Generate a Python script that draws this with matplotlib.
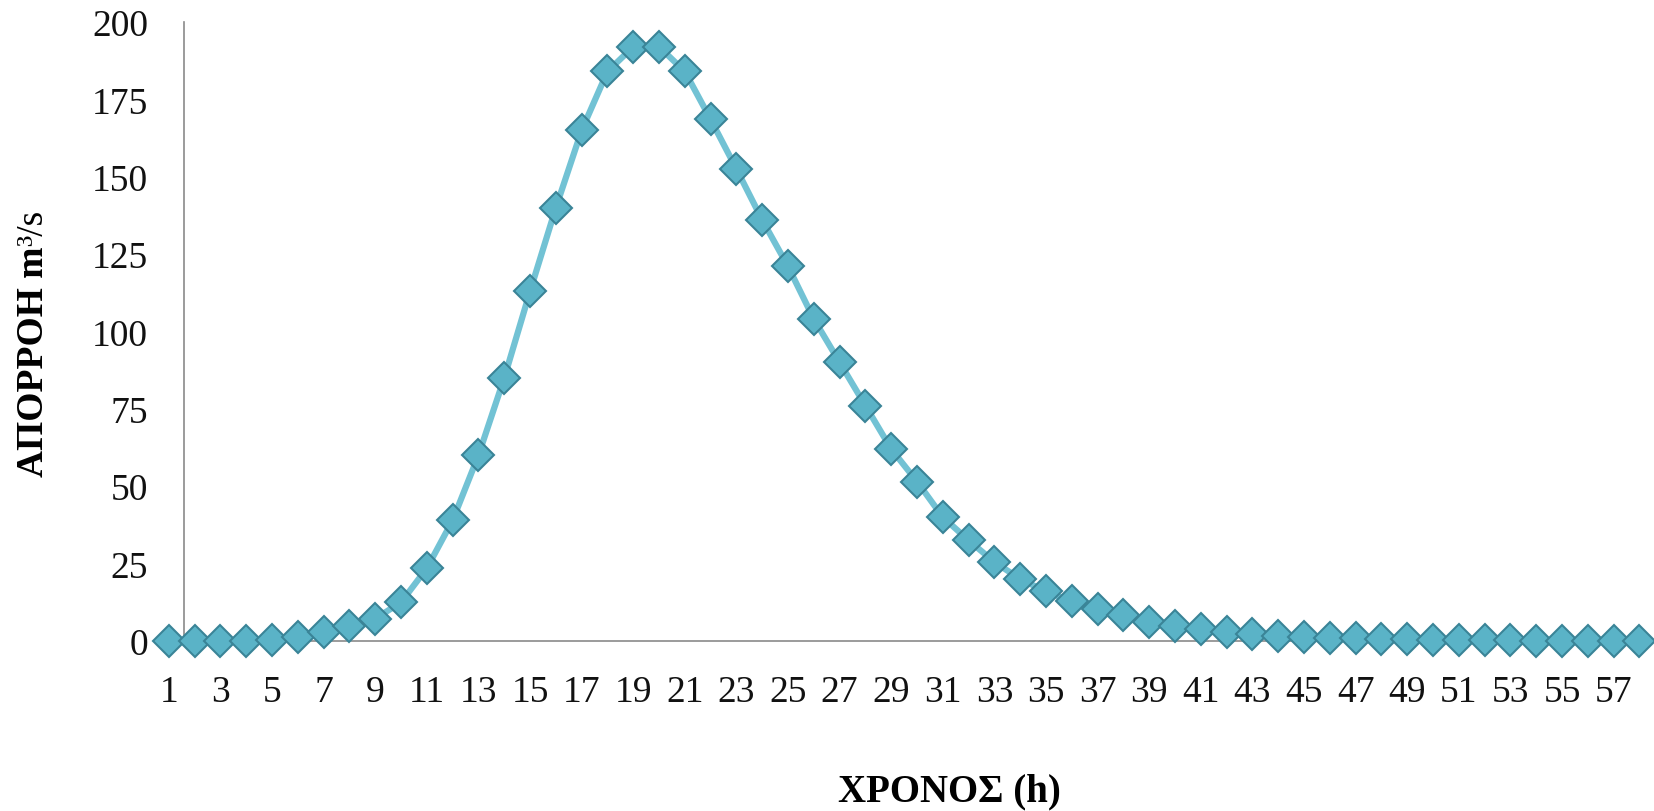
import matplotlib
matplotlib.use("Agg")
import matplotlib.pyplot as plt

# hourly runoff hydrograph, hours 1..58
HOURS = list(range(1, 59))
RUNOFF = [
    0, 0, 0, 0, 0.3, 1.2, 2.8, 4.8, 7.2, 12.5,
    23.5, 39, 60, 85, 113, 140, 165, 184, 192, 192,
    184, 168.5, 152.5, 136, 121, 104, 90, 76, 62, 51.5,
    40, 32.5, 25.5, 20, 16, 12.8, 10.3, 8.3, 6.2, 4.8,
    3.8, 2.8, 2.1, 1.6, 1.3, 1.0, 0.8, 0.6, 0.5, 0.4,
    0.3, 0.25, 0.2, 0.15, 0.1, 0.1, 0.05, 0.05,
]
Y_TICKS = [0, 25, 50, 75, 100, 125, 150, 175, 200]
X_TICKS = HOURS[::2]

SERIF = "Liberation Serif"
LINE_COLOR = "#72c2d4"
FACE_COLOR = "#5ab3c7"
EDGE_COLOR = "#3a8497"

plt.rcParams["font.family"] = [SERIF, "DejaVu Serif"]
plt.rcParams["xtick.labelsize"] = 27
plt.rcParams["ytick.labelsize"] = 27


def main():
    fig = plt.figure(figsize=(16.54, 8.12), dpi=100)
    ax = fig.add_axes([0.0943, 0.2094, 0.9047, 0.7623])

    ax.plot(HOURS, RUNOFF, color=LINE_COLOR, linewidth=4.5, zorder=3,
            clip_on=False)
    ax.plot(HOURS, RUNOFF, linestyle="none", marker="D", markersize=16,
            markerfacecolor=FACE_COLOR, markeredgecolor=EDGE_COLOR,
            markeredgewidth=1.5, zorder=4, clip_on=False)

    ax.set_xlim(0.5, 58.5)
    ax.set_ylim(0, 200)
    ax.set_xticks(X_TICKS)
    ax.set_xticklabels([str(h) for h in X_TICKS])
    ax.set_yticks(Y_TICKS)
    ax.set_yticklabels([str(v) for v in Y_TICKS])
    ax.tick_params(axis="both", length=0, colors="#111111")
    ax.tick_params(axis="x", pad=24)
    ax.tick_params(axis="y", pad=26)

    ax.spines["top"].set_visible(False)
    ax.spines["right"].set_visible(False)
    ax.spines["left"].set_position(("data", 1.59))
    ax.spines["bottom"].set_bounds(1.59, 58.5)
    for side in ["left", "bottom"]:
        ax.spines[side].set_color("#8a8a8a")
        ax.spines[side].set_linewidth(1.2)

    fig.text(0.574, 0.025, "ΧΡΟΝΟΣ (h)", fontsize=28, fontweight="bold",
             ha="center", va="center")

    ylab = fig.text(0.020, 0.4126, "ΑΠΟΡΡΟΗ m", fontsize=27,
                    fontweight="bold", rotation=90,
                    ha="center", va="bottom")
    ax.annotate("³/s", xy=(0.5, 1.0), xycoords=ylab, fontsize=27,
                rotation=90, ha="center", va="bottom",
                annotation_clip=False)

    fig.savefig("out.png", dpi=100)
    plt.close(fig)


if __name__ == "__main__":
    main()
